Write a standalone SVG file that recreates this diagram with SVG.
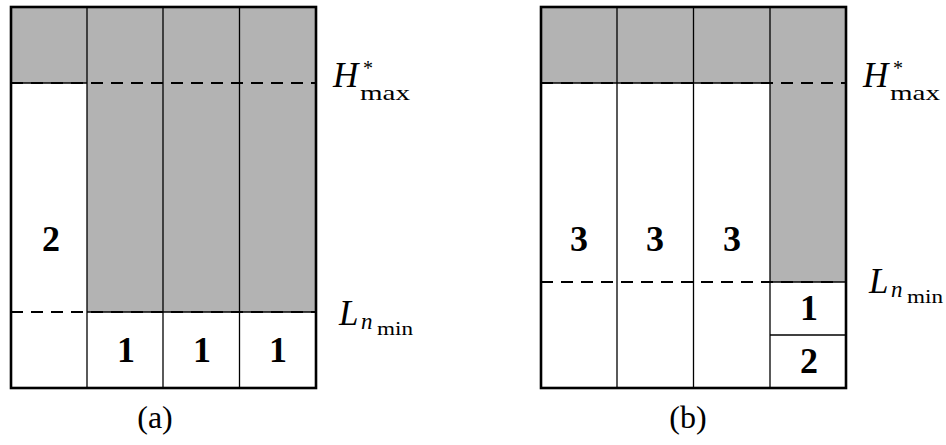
<svg xmlns="http://www.w3.org/2000/svg" width="946" height="445" viewBox="0 0 946 445">
<style>
.g{fill:#b3b3b3;stroke:none}
.in{stroke:#000;stroke-width:1.3;fill:none}
.out{stroke:#000;stroke-width:2.6;fill:none}
.d{stroke:#000;stroke-width:2.2;stroke-dasharray:12 8;fill:none}
.num{font-family:"Liberation Serif",serif;font-weight:bold;font-size:36px;text-anchor:middle}
.lab{font-family:"Liberation Serif",serif}
.it{font-style:italic}
</style>
<rect width="946" height="445" fill="#fff"/>
<g id="panel-a">
  <rect class="g" x="11" y="7" width="76" height="76"/>
  <rect class="g" x="87" y="7" width="229" height="305"/>
  <line class="in" x1="87" y1="7" x2="87" y2="388"/>
  <line class="in" x1="163" y1="7" x2="163" y2="388"/>
  <line class="in" x1="239.5" y1="7" x2="239.5" y2="388"/>
  <line class="in" x1="11" y1="83" x2="87" y2="83"/>
  <line class="in" x1="87" y1="312" x2="316" y2="312"/>
  <line class="d" x1="11" y1="83" x2="316" y2="83"/>
  <line class="d" x1="11" y1="312" x2="316" y2="312"/>
  <rect class="out" x="11" y="7" width="305" height="381"/>
  <text class="num" x="51" y="251">2</text>
  <text class="num" x="126" y="362">1</text>
  <text class="num" x="202" y="362">1</text>
  <text class="num" x="278" y="362">1</text>
  <text class="lab" x="155" y="428" font-size="32" text-anchor="middle">(a)</text>
</g>
<g id="panel-b">
  <rect class="g" x="541" y="7" width="229" height="76"/>
  <rect class="g" x="770" y="7" width="76" height="275"/>
  <line class="in" x1="617" y1="7" x2="617" y2="388"/>
  <line class="in" x1="693.5" y1="7" x2="693.5" y2="388"/>
  <line class="in" x1="770" y1="7" x2="770" y2="388"/>
  <line class="in" x1="541" y1="83" x2="770" y2="83"/>
  <line class="in" x1="770" y1="282" x2="846" y2="282"/>
  <line class="in" x1="770" y1="335" x2="846" y2="335"/>
  <line class="d" x1="541" y1="83" x2="846" y2="83"/>
  <line class="d" x1="541" y1="282" x2="834" y2="282"/>
  <rect class="out" x="541" y="7" width="305" height="381"/>
  <text class="num" x="579" y="251">3</text>
  <text class="num" x="655" y="251">3</text>
  <text class="num" x="732" y="251">3</text>
  <text class="num" x="809" y="320">1</text>
  <text class="num" x="809" y="373">2</text>
  <text class="lab" x="688" y="428" font-size="32" text-anchor="middle">(b)</text>
</g>
<g id="labels">
  <text class="lab" x="333" y="87"><tspan class="it" font-size="35">H</tspan><tspan x="363" y="75" font-size="20">*</tspan><tspan x="360" y="100" font-size="22" textLength="50" lengthAdjust="spacingAndGlyphs">max</tspan></text>
  <text class="lab" x="339" y="325"><tspan class="it" font-size="35">L</tspan><tspan class="it" x="361" y="329" font-size="23">n</tspan><tspan x="377" y="335" font-size="18" textLength="36" lengthAdjust="spacingAndGlyphs">min</tspan></text>
  <text class="lab" x="863" y="87"><tspan class="it" font-size="35">H</tspan><tspan x="893" y="75" font-size="20">*</tspan><tspan x="890" y="100" font-size="22" textLength="50" lengthAdjust="spacingAndGlyphs">max</tspan></text>
  <text class="lab" x="869" y="293"><tspan class="it" font-size="35">L</tspan><tspan class="it" x="891" y="297" font-size="23">n</tspan><tspan x="907" y="303" font-size="18" textLength="36" lengthAdjust="spacingAndGlyphs">min</tspan></text>
</g>
<g id="connectors"></g>
</svg>
